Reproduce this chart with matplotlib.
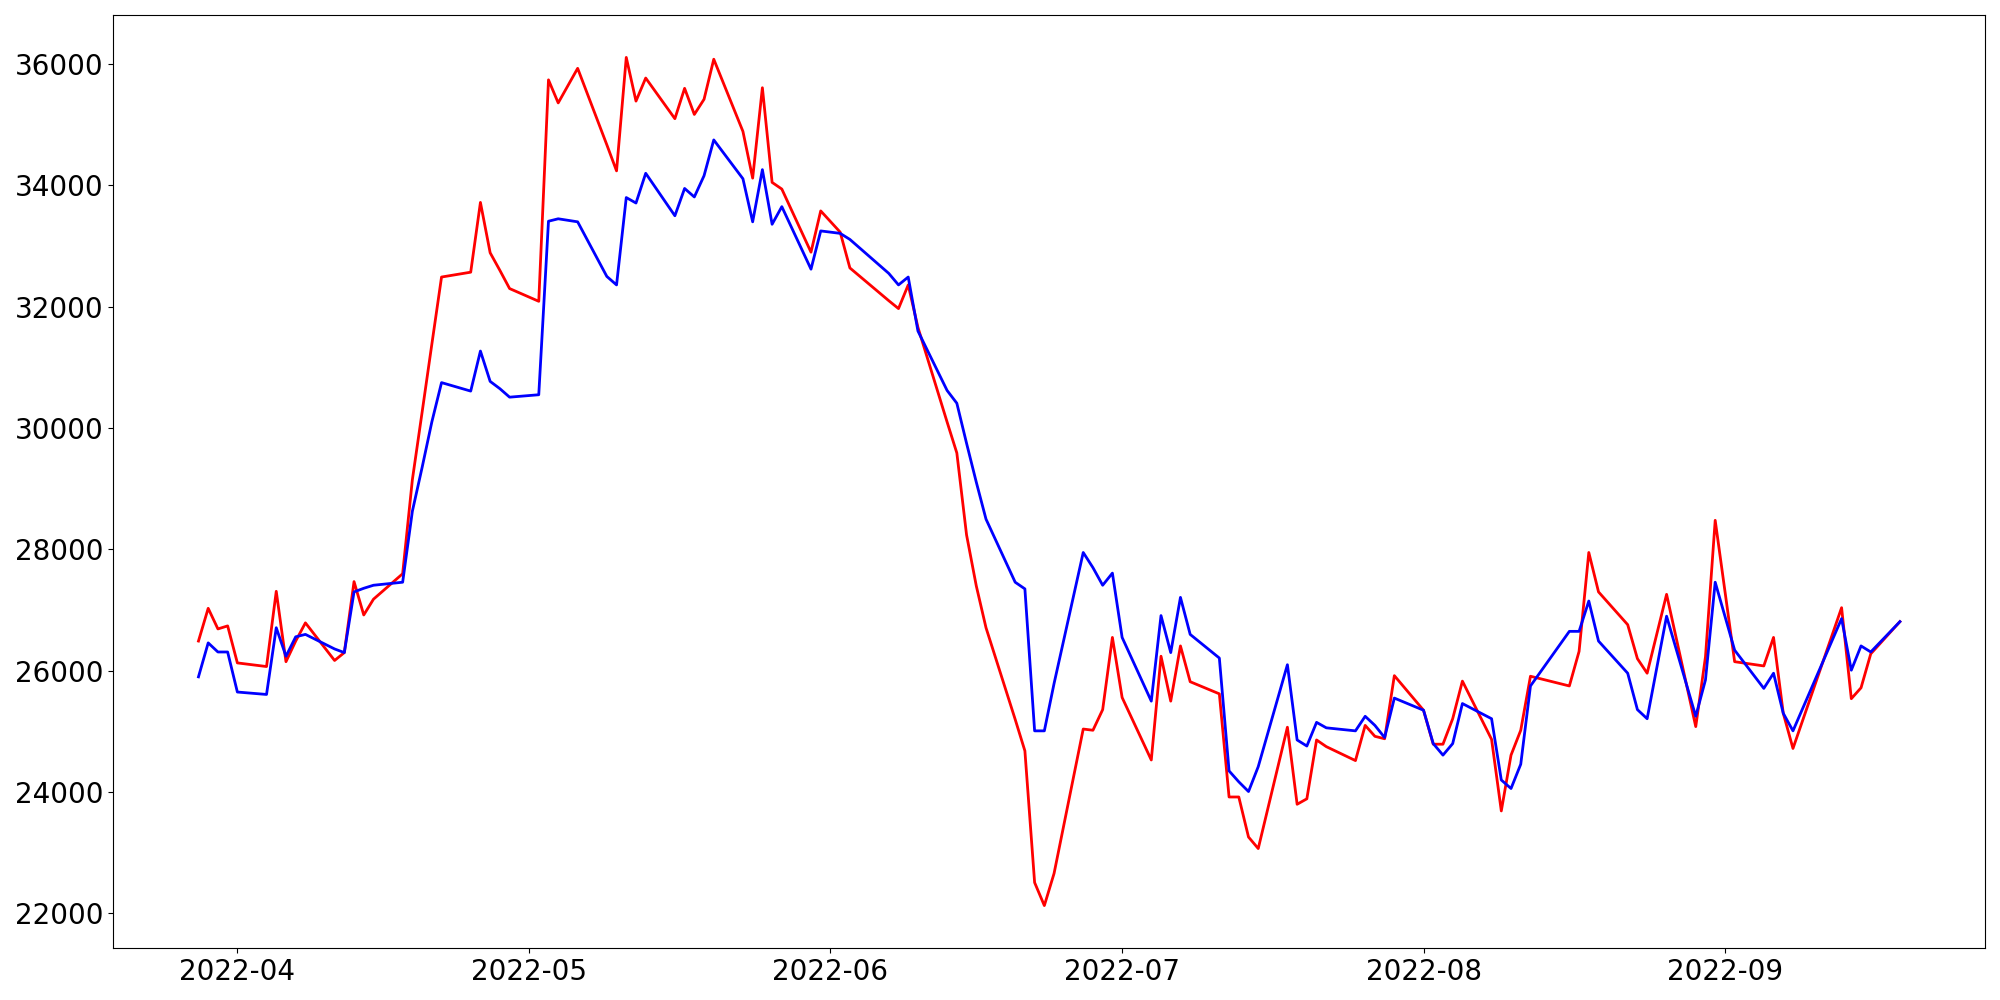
import numpy as np
import pandas as pd
import matplotlib
matplotlib.use("Agg")
import matplotlib.pyplot as plt

# trading days
dates = [
    "2022-03-28", "2022-03-29", "2022-03-30", "2022-03-31", "2022-04-01",
    "2022-04-04", "2022-04-05", "2022-04-06", "2022-04-07", "2022-04-08",
    "2022-04-11", "2022-04-12", "2022-04-13", "2022-04-14", "2022-04-15",
    "2022-04-18", "2022-04-19", "2022-04-20", "2022-04-21", "2022-04-22",
    "2022-04-25", "2022-04-26", "2022-04-27", "2022-04-28", "2022-04-29",
    "2022-05-02", "2022-05-03", "2022-05-04", "2022-05-06",
    "2022-05-09", "2022-05-10", "2022-05-11", "2022-05-12", "2022-05-13",
    "2022-05-16", "2022-05-17", "2022-05-18", "2022-05-19", "2022-05-20",
    "2022-05-23", "2022-05-24", "2022-05-25", "2022-05-26", "2022-05-27",
    "2022-05-30", "2022-05-31", "2022-06-02", "2022-06-03",
    "2022-06-07", "2022-06-08", "2022-06-09", "2022-06-10",
    "2022-06-13", "2022-06-14", "2022-06-15", "2022-06-16", "2022-06-17",
    "2022-06-20", "2022-06-21", "2022-06-22", "2022-06-23", "2022-06-24",
    "2022-06-27", "2022-06-28", "2022-06-29", "2022-06-30", "2022-07-01",
    "2022-07-04", "2022-07-05", "2022-07-06", "2022-07-07", "2022-07-08",
    "2022-07-11", "2022-07-12", "2022-07-13", "2022-07-14", "2022-07-15",
    "2022-07-18", "2022-07-19", "2022-07-20", "2022-07-21", "2022-07-22",
    "2022-07-25", "2022-07-26", "2022-07-27", "2022-07-28", "2022-07-29",
    "2022-08-01", "2022-08-02", "2022-08-03", "2022-08-04", "2022-08-05",
    "2022-08-08", "2022-08-09", "2022-08-10", "2022-08-11", "2022-08-12",
    "2022-08-16", "2022-08-17", "2022-08-18", "2022-08-19",
    "2022-08-22", "2022-08-23", "2022-08-24", "2022-08-26",
    "2022-08-29", "2022-08-30", "2022-08-31", "2022-09-02",
    "2022-09-05", "2022-09-06", "2022-09-07", "2022-09-08",
    "2022-09-13", "2022-09-14", "2022-09-15", "2022-09-16", "2022-09-19",
]

red_values = [
    26490, 27030, 26690, 26740, 26130,
    26070, 27310, 26150, 26490, 26790,
    26170, 26300, 27470, 26920, 27180,
    27600, 29150, 30260, 31380, 32490,
    32570, 33720, 32890, 32600, 32300,
    32090, 35740, 35360, 35930,
    34670, 34240, 36110, 35390, 35770,
    35100, 35600, 35170, 35420, 36080,
    34890, 34120, 35610, 34050, 33940,
    32900, 33580, 33230, 32640,
    32100, 31970, 32360, 31660,
    30100, 29590, 28240, 27400, 26710,
    25200, 24680, 22510, 22130, 22660,
    25040, 25020, 25360, 26550, 25560,
    24530, 26240, 25500, 26410, 25820,
    25620, 23920, 23920, 23260, 23070,
    25070, 23800, 23890, 24860, 24750,
    24520, 25100, 24920, 24880, 25920,
    25350, 24790, 24790, 25210, 25830,
    24870, 23690, 24610, 25020, 25910,
    25750, 26320, 27950, 27300,
    26760, 26200, 25960, 27260,
    25080, 26230, 28480, 26150,
    26080, 26550, 25300, 24720,
    27040, 25540, 25720, 26280, 26810,
]

blue_values = [
    25900, 26460, 26310, 26310, 25650,
    25610, 26710, 26240, 26560, 26600,
    26360, 26300, 27300, 27360, 27410,
    27460, 28630, 29350, 30100, 30750,
    30610, 31270, 30770, 30650, 30510,
    30550, 33410, 33450, 33400,
    32500, 32360, 33800, 33710, 34200,
    33500, 33950, 33810, 34160, 34750,
    34110, 33400, 34260, 33360, 33650,
    32620, 33250, 33210, 33110,
    32550, 32360, 32490, 31600,
    30620, 30410, 29750, 29110, 28500,
    27460, 27350, 25010, 25010, 25790,
    27950, 27700, 27410, 27610, 26550,
    25500, 26910, 26300, 27210, 26600,
    26210, 24350, 24170, 24010, 24420,
    26100, 24860, 24760, 25150, 25060,
    25010, 25250, 25100, 24900, 25550,
    25350, 24800, 24610, 24800, 25460,
    25210, 24200, 24060, 24460, 25750,
    26650, 26650, 27150, 26490,
    25960, 25360, 25210, 26900,
    25250, 25850, 27460, 26340,
    25710, 25960, 25300, 25010,
    26860, 26010, 26410, 26310, 26810,
]

x = pd.to_datetime(dates)

fig, ax = plt.subplots(figsize=(20, 10), dpi=100)
fig.subplots_adjust(left=0.0567, right=0.9925, top=0.985, bottom=0.052)

ax.plot(x, red_values, color='red', linewidth=2)
ax.plot(x, blue_values, color='blue', linewidth=2)

ax.tick_params(axis='both', labelsize=20)

fig.savefig("out.png", dpi=100)
